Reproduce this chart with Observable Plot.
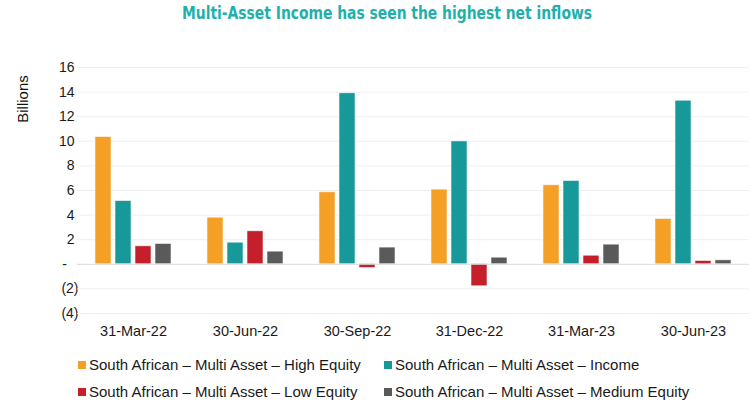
<!DOCTYPE html>
<html>
<head>
<meta charset="utf-8">
<script src="https://cdn.jsdelivr.net/npm/d3@7"></script>
<script src="https://cdn.jsdelivr.net/npm/@observablehq/plot@0.6"></script>
<style>
  body { margin: 0; background: #fff; font-family: "Liberation Sans", Arial, sans-serif; }
  #wrap { position: relative; width: 750px; height: 402px; overflow: hidden; }
  #title { position: absolute; left: 0; top: 0; }
  #chart { position: absolute; left: 0; top: 30px; }
  #ylabel { position: absolute; left: 23px; top: 99px; transform: translate(-50%, -50%) rotate(-90deg);
            font-size: 15px; color: #111; white-space: nowrap; line-height: 18px; }
  .leg { position: absolute; font-size: 15px; line-height: 18px; height: 18px; color: #1a1a1a; white-space: nowrap; display: flex; align-items: center; }
  .leg i { display: inline-block; width: 8px; height: 8px; margin-right: 3px; }
</style>
</head>
<body>
<div id="wrap">
  <svg id="title" width="750" height="30"></svg>
  <div id="chart"></div>
  <div id="ylabel">Billions</div>
  <div id="legend"></div>
</div>
<script>
const titleText = "Multi-Asset Income has seen the highest net inflows";
const dates = ["31-Mar-22", "30-Jun-22", "30-Sep-22", "31-Dec-22", "31-Mar-23", "30-Jun-23"];
const series = [
  "South African – Multi Asset – High Equity",
  "South African – Multi Asset – Income",
  "South African – Multi Asset – Low Equity",
  "South African – Multi Asset – Medium Equity"
];
const highEquity   = [10.34, 3.79, 5.85, 6.07, 6.42, 3.68];
const income       = [5.14, 1.76, 13.9, 9.99, 6.77, 13.3];
const lowEquity    = [1.46, 2.68, -0.3, -1.79, 0.7, 0.27];
const mediumEquity = [1.65, 1.03, 1.36, 0.54, 1.6, 0.32];
const yTicks = [-4, -2, 0, 2, 4, 6, 8, 10, 12, 14, 16];
const colors = ["#F5A024", "#17999A", "#C41F2A", "#5A5A5A"];

const values = [highEquity, income, lowEquity, mediumEquity];
const data = [];
dates.forEach((d, i) => series.forEach((s, j) => data.push({date: d, series: s, value: values[j][i]})));

// Title
const tsvg = d3.select("#title");
tsvg.append("text")
  .attr("x", 387).attr("y", 19)
  .attr("text-anchor", "middle")
  .attr("textLength", 410).attr("lengthAdjust", "spacingAndGlyphs")
  .style("font-family", "'Liberation Sans Narrow', 'DejaVu Sans Condensed', 'Liberation Sans', sans-serif")
  .style("font-weight", "bold").style("font-size", "17px")
  .attr("fill", "#1FB0AC")
  .text(titleText);

const fmt = d => d === 0 ? "-\u00a0\u00a0\u00a0" : d < 0 ? `(${-d})` : `${d}\u00a0`;

const chart = Plot.plot({
  width: 750, height: 315,
  marginLeft: 77, marginRight: 1, marginTop: 37, marginBottom: 32,
  style: {fontSize: "14px", fontFamily: "'Liberation Sans', Arial, sans-serif", color: "#1a1a1a", background: "transparent"},
  fx: {domain: dates, paddingInner: 0.25, paddingOuter: 0.125, label: null, axis: "bottom", tickSize: 0, tickPadding: 12},
  x: {domain: series, padding: 0.2, axis: null},
  y: {domain: [-4, 16], ticks: yTicks, tickFormat: fmt, tickSize: 0, tickPadding: 13, label: null},
  color: {domain: series, range: colors},
  marks: [
    Plot.ruleY(yTicks.filter(d => d !== 0), {stroke: "#efefef", strokeWidth: 1, insetLeft: -14, insetRight: -14}),
    Plot.barY(data, {fx: "date", x: "series", y: "value", fill: "series", stroke: "#f4f4f4", strokeWidth: 0.6}),
    Plot.ruleY([0], {stroke: "#d9d9d9", strokeWidth: 1, insetLeft: -14, insetRight: -14})
  ]
});
document.getElementById("chart").appendChild(chart);
d3.select(chart).selectAll("[aria-label='fx-axis tick label'] text, g[aria-label='fx-axis tick label'] text").style("font-size", "14.5px");

// Legend
const legPos = [[78, 365], [384, 365], [78, 392], [384, 392]];
const leg = document.getElementById("legend");
series.forEach((s, i) => {
  const el = document.createElement("div");
  el.className = "leg";
  el.style.left = legPos[i][0] + "px";
  el.style.top = (legPos[i][1] - 9) + "px";
  el.innerHTML = `<i style="background:${colors[i]}"></i><span>${s}</span>`;
  leg.appendChild(el);
});
</script>
</body>
</html>
